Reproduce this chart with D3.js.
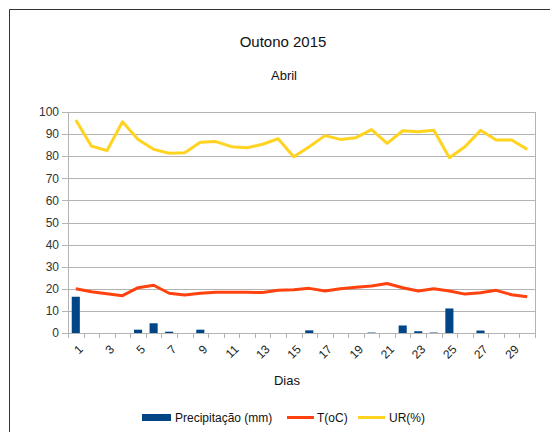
<!DOCTYPE html>
<html>
<head>
<meta charset="utf-8">
<script src="https://cdn.jsdelivr.net/npm/d3@7"></script>
<style>
  body { margin: 0; background: #fff; }
  svg { font-family: "Liberation Sans", Arial, sans-serif; display: block; }
</style>
</head>
<body>
<div id="chart"></div>
<script>
const days = d3.range(1, 31);
const precip = [16.4, 0, 0, 0, 1.5, 4.4, 0.6, 0, 1.5, 0, 0, 0, 0, 0, 0, 1.2, 0, 0, 0, 0.2, 0, 3.4, 0.8, 0.2, 11.1, 0, 1.1, 0, 0, 0];
const temp = [20, 18.7, 17.8, 16.9, 20.5, 21.6, 18, 17.2, 18, 18.4, 18.4, 18.4, 18.3, 19.3, 19.6, 20.2, 19, 20, 20.7, 21.3, 22.4, 20.5, 19, 20, 19, 17.6, 18.2, 19.3, 17.3, 16.4];
const ur = [96.4, 84.6, 82.5, 95.6, 87.6, 83.1, 81.3, 81.6, 86.3, 86.6, 84.3, 83.8, 85.4, 87.9, 79.8, 84.3, 89.3, 87.6, 88.4, 92, 85.8, 91.5, 91.1, 91.7, 79.3, 84.3, 91.7, 87.3, 87.3, 83.1];
const yTicks = d3.range(0, 101, 10);

const width = 550;
const height = 432;
const plot = { left: 68, right: 535, top: 112, bottom: 333 };

const svg = d3.select('#chart')
  .append('svg')
  .attr('width', width)
  .attr('height', height);

// outer frame
svg.append('path')
  .attr('d', `M9.5,${height} V9.5 H${width}`)
  .attr('fill', 'none')
  .attr('stroke', '#333');

const xScale = d3.scaleBand()
  .domain(days)
  .range([plot.left, plot.right]);

const yScale = d3.scaleLinear()
  .domain([0, 100])
  .range([plot.bottom, plot.top]);

// gridlines
svg.append('g')
  .selectAll('line')
  .data(yTicks)
  .join('line')
  .attr('x1', plot.left - 6)
  .attr('x2', plot.right)
  .attr('y1', (d) => Math.round(yScale(d)) + 0.5)
  .attr('y2', (d) => Math.round(yScale(d)) + 0.5)
  .attr('stroke', '#b3b3b3');

// y labels
svg.append('g')
  .selectAll('text')
  .data(yTicks)
  .join('text')
  .attr('x', plot.left - 9)
  .attr('y', (d) => yScale(d))
  .attr('dy', '0.35em')
  .attr('text-anchor', 'end')
  .attr('font-size', 12)
  .attr('fill', '#333')
  .text((d) => d);

// y axis and right edge
svg.append('line')
  .attr('x1', plot.left + 0.5).attr('x2', plot.left + 0.5)
  .attr('y1', plot.top).attr('y2', plot.bottom + 5)
  .attr('stroke', '#b3b3b3');
svg.append('line')
  .attr('x1', plot.right + 0.5).attr('x2', plot.right + 0.5)
  .attr('y1', plot.top).attr('y2', plot.bottom + 5)
  .attr('stroke', '#b3b3b3');

// x ticks at band edges
svg.append('g')
  .selectAll('line')
  .data(days.slice(1))
  .join('line')
  .attr('x1', (d) => Math.round(xScale(d)) + 0.5)
  .attr('x2', (d) => Math.round(xScale(d)) + 0.5)
  .attr('y1', plot.bottom)
  .attr('y2', plot.bottom + 5)
  .attr('stroke', '#b3b3b3');

// x labels, odd days rotated
svg.append('g')
  .selectAll('text')
  .data(days.filter((d) => d % 2 === 1))
  .join('text')
  .attr('transform', (d) => `translate(${xScale(d) + xScale.bandwidth() / 2 + 5}, 347) rotate(-45)`)
  .attr('text-anchor', 'end')
  .attr('dy', '0.35em')
  .attr('font-size', 12)
  .attr('fill', '#222')
  .text((d) => d);

// bars
const barW = xScale.bandwidth() * 0.52;
svg.append('g')
  .selectAll('rect')
  .data(days)
  .join('rect')
  .attr('x', (d) => xScale(d) + (xScale.bandwidth() - barW) / 2)
  .attr('y', (d, i) => yScale(precip[i]))
  .attr('width', barW)
  .attr('height', (d, i) => plot.bottom - yScale(precip[i]))
  .attr('fill', '#004586');

const line = d3.line()
  .x((d) => xScale(d[0]) + xScale.bandwidth() / 2)
  .y((d) => yScale(d[1]));

svg.append('path')
  .datum(days.map((d, i) => [d, temp[i]]))
  .attr('d', line)
  .attr('fill', 'none')
  .attr('stroke', '#ff420e')
  .attr('stroke-width', 3)
  .attr('stroke-linejoin', 'round');

svg.append('path')
  .datum(days.map((d, i) => [d, ur[i]]))
  .attr('d', line)
  .attr('fill', 'none')
  .attr('stroke', '#ffd320')
  .attr('stroke-width', 3)
  .attr('stroke-linejoin', 'round');

// titles
svg.append('text')
  .attr('x', 283).attr('y', 47)
  .attr('text-anchor', 'middle')
  .attr('font-size', 15)
  .attr('fill', '#111')
  .text('Outono 2015');

svg.append('text')
  .attr('x', 284).attr('y', 80)
  .attr('text-anchor', 'middle')
  .attr('font-size', 13)
  .attr('fill', '#111')
  .text('Abril');

svg.append('text')
  .attr('x', 287).attr('y', 385)
  .attr('text-anchor', 'middle')
  .attr('font-size', 13)
  .attr('fill', '#111')
  .text('Dias');

// legend
const legend = svg.append('g').attr('font-size', 12).attr('fill', '#111');
legend.append('rect')
  .attr('x', 142).attr('y', 414).attr('width', 29).attr('height', 7)
  .attr('fill', '#004586');
legend.append('text').attr('x', 175).attr('y', 421.5).text('Precipitação (mm)');
legend.append('line')
  .attr('x1', 287).attr('x2', 314).attr('y1', 417.5).attr('y2', 417.5)
  .attr('stroke', '#ff420e').attr('stroke-width', 3);
legend.append('text').attr('x', 317).attr('y', 421.5).text('T(oC)');
legend.append('line')
  .attr('x1', 358).attr('x2', 385).attr('y1', 417.5).attr('y2', 417.5)
  .attr('stroke', '#ffd320').attr('stroke-width', 3);
legend.append('text').attr('x', 389).attr('y', 421.5).text('UR(%)');
</script>
</body>
</html>
